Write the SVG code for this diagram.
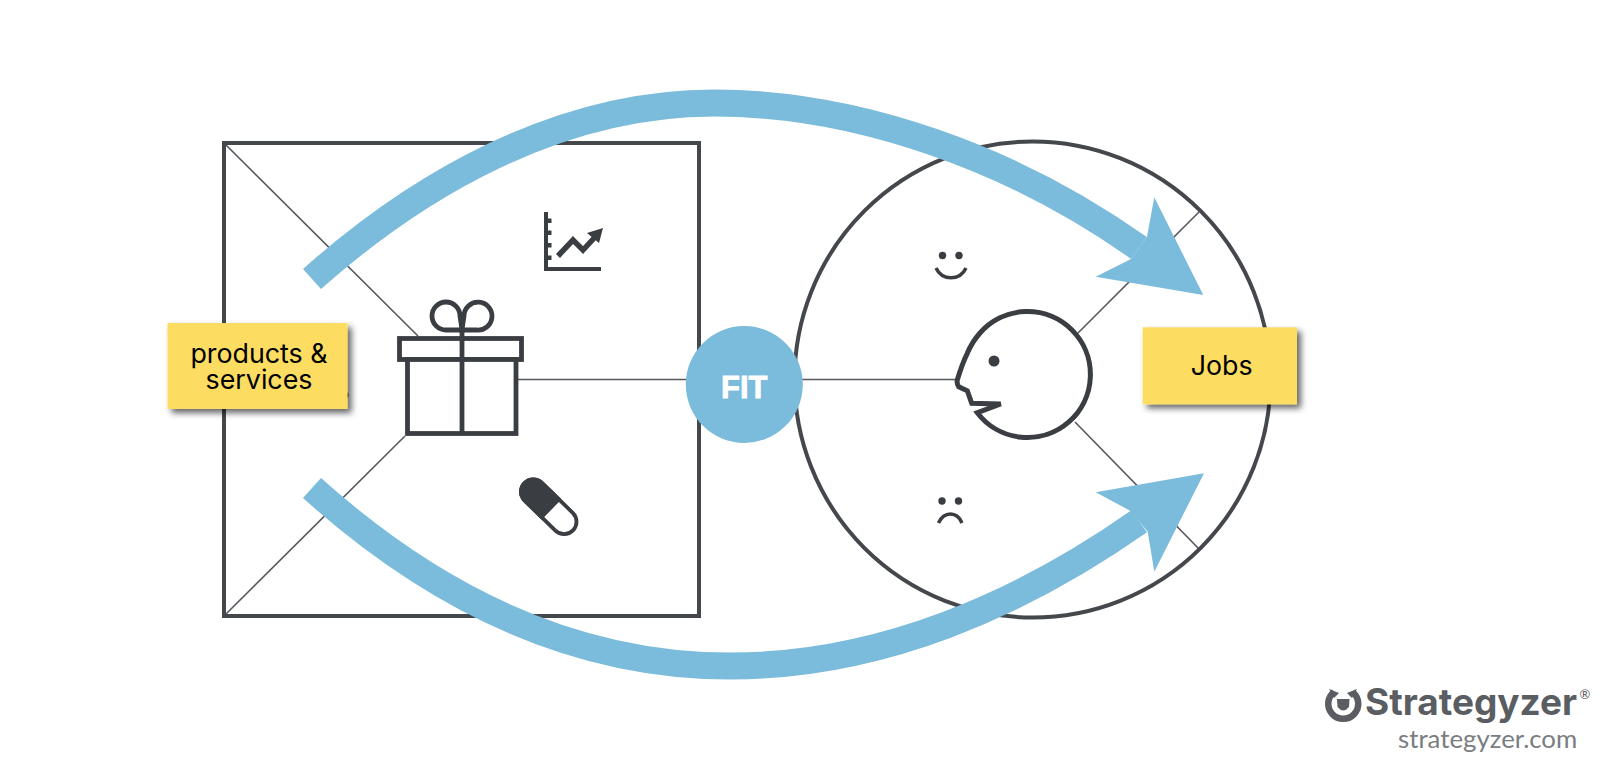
<svg xmlns="http://www.w3.org/2000/svg" width="1600" height="777" viewBox="0 0 1600 777">
<style>
.thin{fill:none;stroke:#55585c;stroke-width:1.6}
.frame{fill:none;stroke:#44474c;stroke-width:4}
.icon{fill:none;stroke:#3a3d42;stroke-width:4.800}
.ink{fill:#3a3d42}
.band{fill:none;stroke:#7bbbdb;stroke-width:27}
.head{fill:#7bbbdb}
.note{fill:#fddc62;filter:url(#sh)}
.lbl{font-family:"Inter","Liberation Sans",sans-serif;font-size:26.800px;fill:#000;text-anchor:middle}
</style>
<defs><filter id="sh" x="-20%" y="-20%" width="140%" height="150%"><feDropShadow dx="4" dy="4" stdDeviation="3" flood-color="#000" flood-opacity=".6"/></filter></defs>
<rect width="1600" height="777" fill="#fff"/>
<g id="connectors">
<line class="thin" x1="224" y1="143" x2="418" y2="336"/>
<line class="thin" x1="224" y1="616" x2="405" y2="436"/>
<line class="thin" x1="518" y1="379.500" x2="957" y2="379.500"/>
<line class="thin" x1="1078" y1="333" x2="1199" y2="212"/>
<line class="thin" x1="1075" y1="422" x2="1199" y2="549"/>
</g>
<g id="value-map"><rect class="frame" x="224" y="143" width="475" height="473"/><circle class="ink" cx="345" cy="395" r="3.500"/></g>
<g id="customer-profile"><circle class="frame" cx="1032.500" cy="379.500" r="238"/></g>
<g id="gift" class="icon">
<path d="M462 330H446A14 14 0 1 1 460 316Q461 322 462 330Z"/>
<path d="M462 330H476A14 14 0 1 0 464 316Q463 322 462 330Z"/>
<rect x="399.500" y="338.500" width="122" height="21" fill="#fff"/>
<rect x="407.500" y="359.500" width="108.500" height="74" fill="#fff"/>
<line x1="462" y1="332" x2="462" y2="433"/>
</g>
<g id="chart"><path class="icon" style="stroke-width:4" d="M546 212V269H601"/><path class="ink" d="M546 218.500h5.500v4.500h-5.500zM546 230.500h5.500v4.500h-5.500zM546 243h5.500v4.500h-5.500zM546 255.500h5.500v4.500h-5.500z"/><path class="icon" style="stroke-width:5.500" d="M558 256L573 240L583 250L596 236"/><path class="ink" d="M603 228L587 233L599 243Z"/></g>
<g id="pill" transform="translate(548.700 506.700) rotate(44.300)"><rect class="icon" style="stroke-width:3.800" x="-33.900" y="-12.400" width="67.800" height="24.800" rx="12.400" fill="#fff"/><path class="ink" d="M4 -14.300H-21.500A14.300 14.300 0 0 0 -21.500 14.300H4Z"/></g>
<g id="smile"><circle class="ink" cx="942.500" cy="255.500" r="3.700"/><circle class="ink" cx="959" cy="255.500" r="3.700"/><path class="icon" style="stroke-width:3.500" d="M936 268C942 281 960 281 966 268"/></g>
<g id="frown"><circle class="ink" cx="942" cy="501" r="3.700"/><circle class="ink" cx="958.500" cy="501" r="3.700"/><path class="icon" style="stroke-width:3.500" d="M938.500 523C944 511 957 511 962 523"/></g>
<g id="head"><path class="icon" style="stroke-width:5" fill="#fff" d="M980 333A63 63 0 1 1 977.300 412.700L1000.700 404L971.700 403.300L967.300 390.700L958.700 386.700Q956.500 383 957.300 380Q962 364 967.300 353.300Q972 342 980 333Z"/><circle class="ink" cx="994" cy="361" r="5.500"/></g>
<g id="fit"><circle cx="744.300" cy="384.500" r="58.500" fill="#7bbbdb"/><text x="744.300" y="397.500" font-family="'Liberation Sans',sans-serif" font-weight="700" font-size="31" fill="#fff" stroke="#fff" stroke-width=".8" text-anchor="middle">FIT</text></g>
<g id="arrows">
<path class="band" d="M312 279C420 183 560 103 714 103C860 103 1015 160 1139 248"/>
<path class="head" d="M1203.300 295L1154.300 197.300L1147 236.700L1131 259L1095.700 276.700Z"/>
<path class="band" d="M312 488C420 585 560 666 730 666C880 666 1020 605 1139.200 521.300"/>
<path class="head" d="M1204 473.300L1095.700 492.300L1130.700 511L1147.700 531.700L1154.300 571.700Z"/>
</g>
<g id="note-products"><rect class="note" x="167.500" y="323" width="180" height="86"/><text class="lbl"><tspan x="259" y="363">products &amp;</tspan><tspan x="259" y="388.500">services</tspan></text></g>
<g id="note-jobs"><rect class="note" x="1142.700" y="327.300" width="154.300" height="77"/><text class="lbl" x="1221.700" y="375">Jobs</text></g>
<g id="logo"><path fill="none" stroke="#5a5d61" stroke-width="6.500" d="M1334 692A15 15 0 1 0 1352.500 692"/><path fill="#5a5d61" d="M1329 689L1339 693L1334 698ZM1357 689L1347 693L1352 698ZM1337 699H1349.500L1349 707Q1343.300 714 1337.500 707Z"/><text x="1365" y="715" font-family="Inter,'Liberation Sans',sans-serif" font-weight="700" font-size="37" fill="#5a5d61" textLength="212" lengthAdjust="spacingAndGlyphs">Strategyzer</text><text x="1585" y="699" font-family="Lato,sans-serif" font-size="13" text-anchor="middle" fill="#5a5d61">®</text><text x="1398" y="748" font-family="Lato,'Liberation Sans',sans-serif" font-size="25.800" fill="#7a7d81">strategyzer.com</text></g>
</svg>
